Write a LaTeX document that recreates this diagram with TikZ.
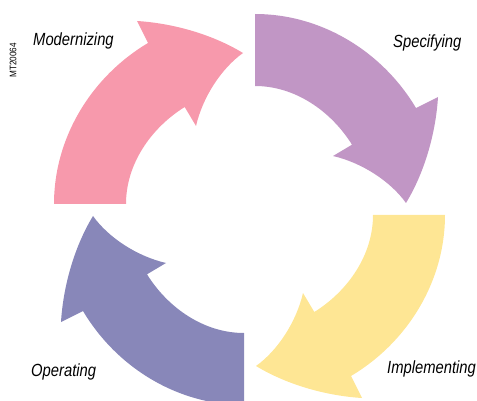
\documentclass[tikz,border=0pt]{standalone}
\usepackage{fontspec}
\setmainfont{Liberation Sans}
\newfontfamily\labelfont[FakeStretch=0.84,ItalicFont={Liberation Sans Italic},ItalicFeatures={FakeStretch=0.84}]{Liberation Sans}
\newfontfamily\codefont[FakeStretch=0.86]{Liberation Sans}
\newcommand{\ringarrow}{(54,204) .. controls (54,138) and (91,77) .. (148,43)
  -- (137,21) .. controls (170,23) and (210,33) .. (243,53)
  .. controls (222,68) and (203,96) .. (196,126)
  -- (184.7,107) .. controls (151,128) and (126,164) .. (126,204) -- cycle}
\tikzset{
  stagelabel/.style={font=\labelfont\itshape\fontsize{17.6}{20}\selectfont, anchor=base west, inner sep=0pt, text=black},
  codelabel/.style={font=\codefont\fontsize{9.5}{10}\selectfont, rotate=90, inner sep=0pt, text=black},
}
\definecolor{pinkfill}{HTML}{F799AC}
\definecolor{purplefill}{HTML}{C196C5}
\definecolor{yellowfill}{HTML}{FEE694}
\definecolor{bluefill}{HTML}{8887B9}
\begin{document}
\begin{tikzpicture}[x=1pt,y=-1pt]
\useasboundingbox (0,0) rectangle (477,401);
\clip (0,0) rectangle (477,401);
\fill[pinkfill] \ringarrow;
\fill[purplefill, rotate around={-90:(249.5,209.5)}] \ringarrow;
\fill[yellowfill, rotate around={180:(249.5,209.5)}] \ringarrow;
\fill[bluefill, rotate around={90:(249.5,209.5)}] \ringarrow;
\node[stagelabel] (mod) at (33,46) {Modernizing};
\node[stagelabel] (spec) at (393,48) {Specifying};
\node[stagelabel] (impl) at (387,373) {Implementing};
\node[stagelabel] (oper) at (31,376) {Operating};
\node[codelabel] (code) at (13,60.5) {MT20064};
\end{tikzpicture}
\end{document}
